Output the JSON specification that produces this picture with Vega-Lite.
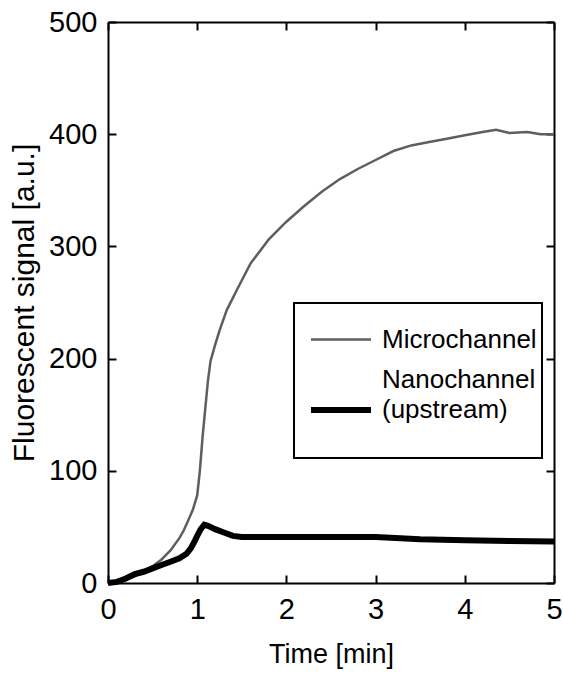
{
  "$schema": "https://vega.github.io/schema/vega-lite/v6.json",
  "width": 446,
  "height": 561,
  "autosize": {"type": "none"},
  "padding": {"left": 108, "top": 22, "right": 9, "bottom": 92},
  "background": "white",
  "config": {
    "view": {"stroke": null},
    "axis": {
      "grid": false,
      "domainColor": "black",
      "domainWidth": 2,
      "tickColor": "black",
      "tickWidth": 2,
      "tickSize": -8,
      "labelFlush": false,
      "labelFont": "Liberation Sans",
      "labelFontSize": 29,
      "labelColor": "black",
      "titleFont": "Liberation Sans",
      "titleFontSize": 27,
      "titleFontWeight": "normal",
      "titleColor": "black"
    },
    "legend": {
      "orient": "none",
      "legendX": 186,
      "legendY": 281,
      "strokeColor": "black",
      "strokeWidth": 2,
      "fillColor": "white",
      "padding": 5,
      "symbolOffset": 9,
      "symbolType": "stroke",
      "symbolSize": 3600,
      "labelFont": "Liberation Sans",
      "labelFontSize": 26,
      "labelColor": "black",
      "labelLimit": 300,
      "labelOffset": 8,
      "rowPadding": 14
    }
  },
  "datasets": {
    "d": [
      {"t": 0, "v": 0, "series": "Microchannel"},
      {"t": 0.1, "v": 1, "series": "Microchannel"},
      {"t": 0.2, "v": 3, "series": "Microchannel"},
      {"t": 0.3, "v": 6, "series": "Microchannel"},
      {"t": 0.4, "v": 10, "series": "Microchannel"},
      {"t": 0.5, "v": 15, "series": "Microchannel"},
      {"t": 0.6, "v": 21, "series": "Microchannel"},
      {"t": 0.7, "v": 29, "series": "Microchannel"},
      {"t": 0.8, "v": 40, "series": "Microchannel"},
      {"t": 0.85, "v": 47, "series": "Microchannel"},
      {"t": 0.9, "v": 56, "series": "Microchannel"},
      {"t": 0.95, "v": 65, "series": "Microchannel"},
      {"t": 1.0, "v": 78, "series": "Microchannel"},
      {"t": 1.03, "v": 100, "series": "Microchannel"},
      {"t": 1.06, "v": 130, "series": "Microchannel"},
      {"t": 1.09, "v": 155, "series": "Microchannel"},
      {"t": 1.12, "v": 180, "series": "Microchannel"},
      {"t": 1.15, "v": 198, "series": "Microchannel"},
      {"t": 1.2, "v": 212, "series": "Microchannel"},
      {"t": 1.25, "v": 225, "series": "Microchannel"},
      {"t": 1.33, "v": 243, "series": "Microchannel"},
      {"t": 1.45, "v": 262, "series": "Microchannel"},
      {"t": 1.6, "v": 285, "series": "Microchannel"},
      {"t": 1.8, "v": 306, "series": "Microchannel"},
      {"t": 2.0, "v": 322, "series": "Microchannel"},
      {"t": 2.2, "v": 336, "series": "Microchannel"},
      {"t": 2.4, "v": 349, "series": "Microchannel"},
      {"t": 2.6, "v": 360, "series": "Microchannel"},
      {"t": 2.8, "v": 369, "series": "Microchannel"},
      {"t": 3.0, "v": 377, "series": "Microchannel"},
      {"t": 3.2, "v": 385, "series": "Microchannel"},
      {"t": 3.4, "v": 390, "series": "Microchannel"},
      {"t": 3.6, "v": 393, "series": "Microchannel"},
      {"t": 3.8, "v": 396, "series": "Microchannel"},
      {"t": 4.0, "v": 399, "series": "Microchannel"},
      {"t": 4.2, "v": 402, "series": "Microchannel"},
      {"t": 4.35, "v": 404, "series": "Microchannel"},
      {"t": 4.5, "v": 401, "series": "Microchannel"},
      {"t": 4.7, "v": 402, "series": "Microchannel"},
      {"t": 4.85, "v": 400, "series": "Microchannel"},
      {"t": 5.0, "v": 400, "series": "Microchannel"},
      {"t": 0, "v": 0, "series": "Nanochannel"},
      {"t": 0.1, "v": 1, "series": "Nanochannel"},
      {"t": 0.2, "v": 4, "series": "Nanochannel"},
      {"t": 0.3, "v": 8, "series": "Nanochannel"},
      {"t": 0.4, "v": 10, "series": "Nanochannel"},
      {"t": 0.5, "v": 13, "series": "Nanochannel"},
      {"t": 0.6, "v": 16, "series": "Nanochannel"},
      {"t": 0.7, "v": 19, "series": "Nanochannel"},
      {"t": 0.8, "v": 22, "series": "Nanochannel"},
      {"t": 0.88, "v": 26, "series": "Nanochannel"},
      {"t": 0.93, "v": 31, "series": "Nanochannel"},
      {"t": 0.97, "v": 37, "series": "Nanochannel"},
      {"t": 1.0, "v": 42, "series": "Nanochannel"},
      {"t": 1.04, "v": 48, "series": "Nanochannel"},
      {"t": 1.08, "v": 52, "series": "Nanochannel"},
      {"t": 1.12, "v": 51, "series": "Nanochannel"},
      {"t": 1.2, "v": 48, "series": "Nanochannel"},
      {"t": 1.3, "v": 45, "series": "Nanochannel"},
      {"t": 1.4, "v": 42, "series": "Nanochannel"},
      {"t": 1.5, "v": 41, "series": "Nanochannel"},
      {"t": 2.0, "v": 41, "series": "Nanochannel"},
      {"t": 2.5, "v": 41, "series": "Nanochannel"},
      {"t": 3.0, "v": 41, "series": "Nanochannel"},
      {"t": 3.5, "v": 39, "series": "Nanochannel"},
      {"t": 4.0, "v": 38, "series": "Nanochannel"},
      {"t": 4.5, "v": 37.5, "series": "Nanochannel"},
      {"t": 5.0, "v": 37, "series": "Nanochannel"}
    ]
  },
  "data": {"name": "d"},
  "layer": [
    {
      "transform": [{"filter": "datum.series == 'Microchannel'"}],
      "mark": {"type": "line"},
      "encoding": {
        "x": {"field": "t", "type": "quantitative", "scale": {"domain": [0, 5], "nice": false},
              "axis": {"orient": "bottom", "values": [0, 1, 2, 3, 4, 5], "title": "Time [min]", "labelPadding": 20, "titlePadding": 17}},
        "y": {"field": "v", "type": "quantitative", "scale": {"domain": [0, 500], "nice": false},
              "axis": {"orient": "left", "values": [0, 100, 200, 300, 400, 500], "title": "Fluorescent signal [a.u.]", "titleFontSize": 30, "labelPadding": 19, "titlePadding": 9}},
        "color": {"field": "series", "type": "nominal", "scale": {"domain": ["Microchannel", "Nanochannel"], "range": ["#5e5e5e", "#000000"]},
                  "legend": {"title": null, "labelExpr": "datum.value == 'Nanochannel' ? ['Nanochannel', '(upstream)', ''] : datum.label",
                             "encode": {"labels": {"update": {"dy": {"signal": "datum.value == 'Nanochannel' ? -30 : 0"}, "lineHeight": {"value": 30}}}}}},
        "strokeWidth": {"field": "series", "type": "nominal", "scale": {"domain": ["Microchannel", "Nanochannel"], "range": [2.5, 6]},
                  "legend": {"title": null, "labelExpr": "datum.value == 'Nanochannel' ? ['Nanochannel', '(upstream)', ''] : datum.label",
                             "encode": {"labels": {"update": {"dy": {"signal": "datum.value == 'Nanochannel' ? -30 : 0"}, "lineHeight": {"value": 30}}}}}}
      }
    },
    {
      "transform": [{"filter": "datum.series == 'Nanochannel'"}],
      "mark": {"type": "line"},
      "encoding": {
        "x": {"field": "t", "type": "quantitative", "scale": {"domain": [0, 5], "nice": false},
              "axis": {"orient": "top", "values": [0, 1, 2, 3, 4, 5], "title": null, "labels": false}},
        "y": {"field": "v", "type": "quantitative", "scale": {"domain": [0, 500], "nice": false},
              "axis": {"orient": "right", "values": [0, 100, 200, 300, 400, 500], "title": null, "labels": false}},
        "color": {"field": "series", "type": "nominal", "scale": {"domain": ["Microchannel", "Nanochannel"], "range": ["#5e5e5e", "#000000"]},
                  "legend": {"title": null, "labelExpr": "datum.value == 'Nanochannel' ? ['Nanochannel', '(upstream)', ''] : datum.label",
                             "encode": {"labels": {"update": {"dy": {"signal": "datum.value == 'Nanochannel' ? -30 : 0"}, "lineHeight": {"value": 30}}}}}},
        "strokeWidth": {"field": "series", "type": "nominal", "scale": {"domain": ["Microchannel", "Nanochannel"], "range": [2.5, 6]},
                  "legend": {"title": null, "labelExpr": "datum.value == 'Nanochannel' ? ['Nanochannel', '(upstream)', ''] : datum.label",
                             "encode": {"labels": {"update": {"dy": {"signal": "datum.value == 'Nanochannel' ? -30 : 0"}, "lineHeight": {"value": 30}}}}}}
      }
    }
  ],
  "resolve": {"axis": {"x": "independent", "y": "independent"}}
}
